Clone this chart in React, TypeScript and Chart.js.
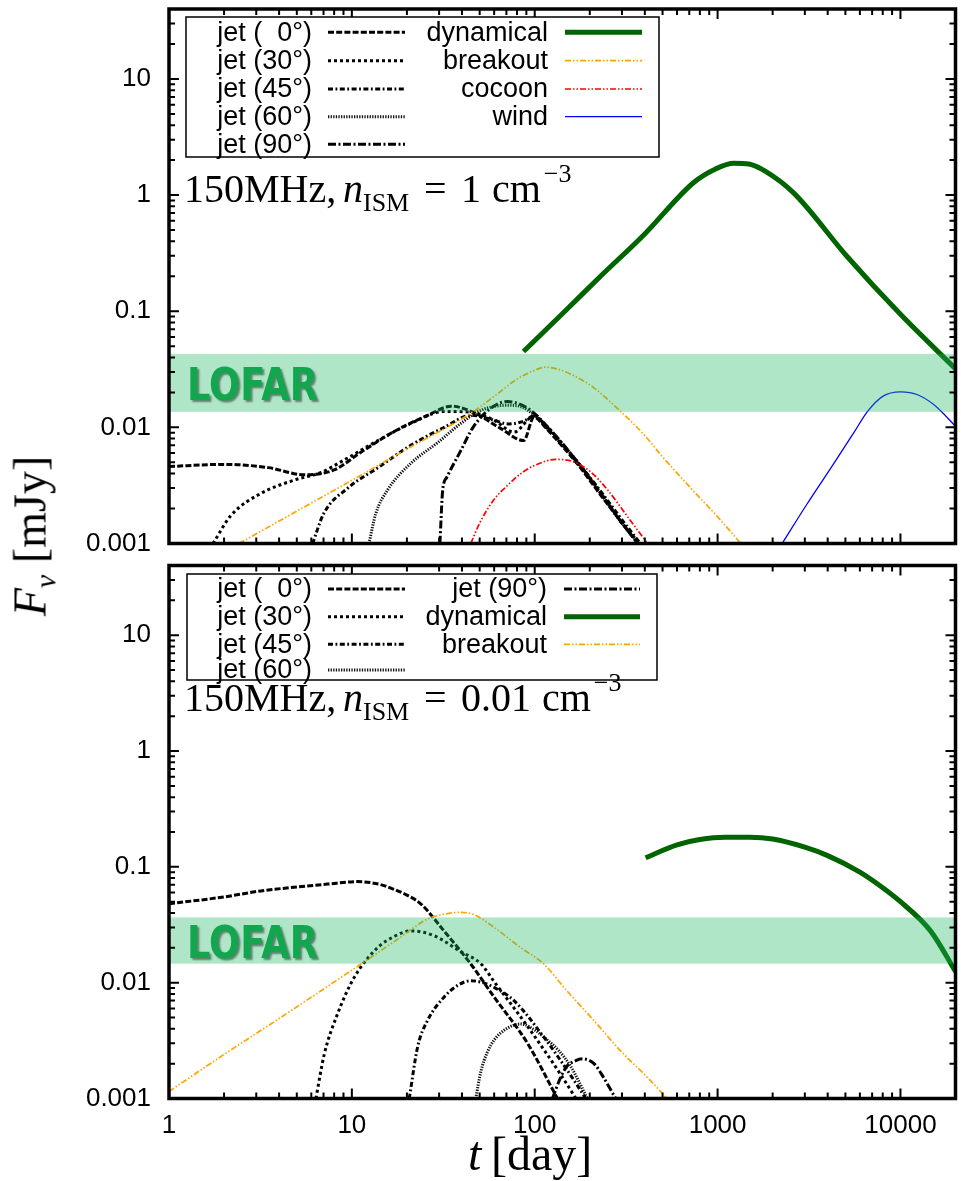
import React, { useEffect, useRef } from 'react';
import { Chart, registerables } from 'chart.js';

Chart.register(...registerables);

// ---------- axes ----------
const X_MIN = 1;
const X_MAX = 20000;
const Y_MIN = 0.001;
const Y_MAX = 40;
const xTickValues = [1, 10, 100, 1000, 10000];
const xTickLabels = ['1', '10', '100', '1000', '10000'];
const yTickValues = [0.001, 0.01, 0.1, 1, 10];
const yTickLabels = ['0.001', '0.01', '0.1', '1', '10'];

// ---------- series names ----------
const NAMES: Record<string, string> = {
  jet0: 'jet (  0°)',
  jet30: 'jet (30°)',
  jet45: 'jet (45°)',
  jet60: 'jet (60°)',
  jet90: 'jet (90°)',
  dyn: 'dynamical',
  breakout: 'breakout',
  cocoon: 'cocoon',
  wind: 'wind',
};

// ---------- top panel: n_ISM = 1 cm^-3 ----------
const topDensityText = '1';
const topLofarBand = [0.0136, 0.0429];

const topJet0Day = [1, 2, 3.5, 5.5, 8, 11.2, 17, 26, 35, 46, 65, 87, 99, 115, 130, 172, 230, 300, 365];
const topJet0Flux = [0.0046, 0.0048, 0.0045, 0.0039, 0.0043, 0.0061, 0.0092, 0.0127, 0.0152, 0.0135, 0.0098, 0.0077, 0.0122, 0.0099, 0.008, 0.0048, 0.0026, 0.0015, 0.001];

const topJet30Day = [1.74, 2.18, 3.18, 4.8, 6.8, 9, 13.9, 21, 32, 45, 60, 77, 99, 115, 130, 172, 230, 300, 372];
const topJet30Flux = [0.001, 0.00174, 0.0027, 0.0035, 0.0041, 0.0052, 0.0077, 0.0108, 0.0137, 0.0135, 0.0115, 0.0091, 0.0125, 0.0101, 0.0082, 0.0049, 0.0027, 0.0015, 0.001];

const topJet45Day = [6.1, 7, 9.5, 13.9, 21, 32, 45, 58, 72, 87, 100, 115, 130, 172, 230, 300, 378];
const topJet45Flux = [0.001, 0.0018, 0.003, 0.0045, 0.007, 0.01, 0.0127, 0.0117, 0.0107, 0.0113, 0.0126, 0.0103, 0.0084, 0.005, 0.0028, 0.0016, 0.001];

const topJet60Day = [12.4, 13.5, 15.7, 21, 29.5, 39.4, 50.7, 71, 85, 98, 115, 130, 172, 230, 300, 375];
const topJet60Flux = [0.001, 0.0018, 0.0029, 0.0049, 0.0074, 0.0108, 0.014, 0.0155, 0.015, 0.013, 0.0104, 0.0084, 0.005, 0.0027, 0.0015, 0.001];

const topJet90Day = [30.3, 31.4, 33, 39.4, 46, 57.5, 71, 91.6, 105, 115, 130, 172, 230, 300, 370];
const topJet90Flux = [0.001, 0.0029, 0.0037, 0.0063, 0.01, 0.0146, 0.0167, 0.0146, 0.0122, 0.0105, 0.0085, 0.005, 0.0027, 0.0015, 0.001];

const topDynDay = [86.8, 150, 229, 396, 743, 975, 1228, 1483, 1829, 2612, 5108, 10000, 20400];
const topDynFlux = [0.045, 0.104, 0.2, 0.456, 1.29, 1.68, 1.88, 1.85, 1.6, 1.04, 0.296, 0.094, 0.031];

const topBreakoutDay = [2.41, 5, 10, 20, 46, 60, 80, 100, 115, 140, 170, 210, 284, 400, 489, 700, 1000, 1340];
const topBreakoutFlux = [0.001, 0.0019, 0.0035, 0.0065, 0.0136, 0.0185, 0.026, 0.031, 0.033, 0.031, 0.027, 0.022, 0.0145, 0.0085, 0.0058, 0.0031, 0.0017, 0.001];

const topCocoonDay = [44.7, 50, 60, 70, 84, 100, 130, 160, 200, 250, 322, 414];
const topCocoonFlux = [0.001, 0.0015, 0.0024, 0.0031, 0.004, 0.0047, 0.0053, 0.0051, 0.0042, 0.0029, 0.0017, 0.001];

const topWindDay = [2255, 3090, 4325, 5560, 6580, 8000, 10000, 12500, 15200, 20400];
const topWindFlux = [0.001, 0.0022, 0.0049, 0.009, 0.0136, 0.0185, 0.0202, 0.019, 0.0157, 0.0099];

// ---------- bottom panel: n_ISM = 0.01 cm^-3 ----------
const botDensityText = '0.01';
const botLofarBand = [0.0146, 0.0366];

const botJet0Day = [1, 2, 3.18, 5, 7.36, 10.7, 14, 17, 20, 23.8, 31.9, 44.7, 60, 91.3, 133];
const botJet0Flux = [0.048, 0.055, 0.062, 0.067, 0.071, 0.0746, 0.071, 0.064, 0.057, 0.048, 0.028, 0.0145, 0.0075, 0.003, 0.001];

const botJet30Day = [6.36, 7.06, 8.36, 10.3, 13.8, 17, 21, 28.2, 39.4, 50.7, 60, 91.3, 139, 168];
const botJet30Flux = [0.001, 0.0024, 0.0054, 0.0111, 0.02, 0.025, 0.028, 0.0254, 0.0185, 0.0146, 0.0102, 0.0042, 0.0016, 0.001];

const botJet45Day = [20.6, 22.9, 25.9, 31.9, 38, 44.7, 52, 60, 77, 112, 171, 190];
const botJet45Flux = [0.001, 0.0028, 0.0047, 0.0075, 0.0095, 0.0104, 0.01, 0.0091, 0.007, 0.0034, 0.0013, 0.001];

const botJet60Day = [47.6, 50.7, 55, 60, 70, 84, 100, 112, 135, 157, 194];
const botJet60Flux = [0.001, 0.0017, 0.0025, 0.0032, 0.004, 0.0044, 0.0039, 0.0034, 0.0026, 0.0019, 0.001];

const botJet90Day = [125, 138, 150, 165, 182, 211, 239, 277];
const botJet90Flux = [0.001, 0.0015, 0.0019, 0.0021, 0.0022, 0.002, 0.0015, 0.001];

const botDynDay = [404, 600, 800, 1100, 1500, 2000, 3000, 4000, 6000, 8000, 10000, 14600, 20000];
const botDynFlux = [0.12, 0.155, 0.172, 0.18, 0.18, 0.174, 0.148, 0.125, 0.09, 0.066, 0.05, 0.028, 0.0125];

const botBreakoutDay = [1, 2, 4, 9.9, 18, 26, 32, 38.6, 46, 60, 84, 112, 150, 211, 300, 400, 531];
const botBreakoutFlux = [0.00115, 0.0024, 0.0049, 0.0127, 0.024, 0.0355, 0.039, 0.0404, 0.039, 0.03, 0.02, 0.0145, 0.0085, 0.0047, 0.0025, 0.0016, 0.001];

// ---------- styles ----------
const STY: Record<string, { color: string; width: number; dash: number[] }> = {
  jet0: { color: '#000000', width: 3, dash: [6, 2.2] },
  jet30: { color: '#000000', width: 3, dash: [3, 3] },
  jet45: { color: '#000000', width: 3, dash: [5, 2.5, 1.8, 2.5] },
  jet60: { color: '#111111', width: 3, dash: [1.3, 1.3] },
  jet90: { color: '#000000', width: 3, dash: [8, 2.5, 2, 2.5] },
  dyn: { color: '#006400', width: 5, dash: [] },
  breakout: { color: '#ffa500', width: 1.7, dash: [6, 2, 1.5, 2, 1.5, 2] },
  cocoon: { color: '#ff0000', width: 1.7, dash: [6, 2, 1.5, 2, 1.5, 2] },
  wind: { color: '#0000ff', width: 1.3, dash: [] },
};

const SANS = '"Liberation Sans", Arial, sans-serif';
const SERIF = '"Liberation Serif", "Times New Roman", serif';

function ds(key: string, days: number[], flux: number[]) {
  const s = STY[key];
  return {
    label: NAMES[key],
    data: days.map((d, i) => ({ x: d, y: flux[i] })),
    borderColor: s.color,
    backgroundColor: s.color,
    borderWidth: s.width,
    borderDash: s.dash,
    borderCapStyle: 'butt',
    borderJoinStyle: 'round',
    pointRadius: 0,
    fill: false,
    cubicInterpolationMode: 'monotone',
  };
}

const labelFor = (values: number[], labels: string[]) => (v: number | string) => {
  const n = Number(v);
  for (let i = 0; i < values.length; i++) {
    if (Math.abs(n / values[i] - 1) < 1e-6) return labels[i];
  }
  return '';
};

type Decor = {
  id: string;
  offsetY: number;
  band: number[];
  box: { x: number; y: number; w: number; h: number };
  leftKeys: string[];
  rightKeys: string[];
  rows: number[];
  leftTextRight: number;
  leftX0: number;
  leftX1: number;
  rightTextRight: number;
  rightX0: number;
  rightX1: number;
  density: string;
  annotBaseline: number;
  xTitle: boolean;
};

function sample(ctx: CanvasRenderingContext2D, key: string, x0: number, x1: number, y: number) {
  const s = STY[key];
  ctx.save();
  ctx.beginPath();
  ctx.strokeStyle = s.color;
  ctx.lineWidth = s.width;
  ctx.setLineDash(s.dash);
  ctx.lineCap = 'butt';
  ctx.moveTo(x0, y);
  ctx.lineTo(x1, y);
  ctx.stroke();
  ctx.restore();
}

function decorPlugin(d: Decor) {
  return {
    id: 'decor_' + d.id,
    afterDatasetsDraw(chart: any) {
      const ctx: CanvasRenderingContext2D = chart.ctx;
      const { left, right } = chart.chartArea;
      const ys = chart.scales.y;
      const yHi = ys.getPixelForValue(d.band[1]);
      const yLo = ys.getPixelForValue(d.band[0]);
      ctx.save();
      ctx.fillStyle = 'rgba(29,183,98,0.35)';
      ctx.fillRect(left, yHi, right - left, yLo - yHi);
      ctx.font = 'bold 45px "DejaVu Sans", sans-serif';
      const w = ctx.measureText('LOFAR').width;
      const cy = (yHi + yLo) / 2;
      ctx.translate(187, cy + 17);
      ctx.scale(131 / w, 1);
      ctx.shadowColor = 'rgba(0,0,0,0.45)';
      ctx.shadowOffsetX = 2;
      ctx.shadowOffsetY = 2;
      ctx.shadowBlur = 2;
      ctx.fillStyle = '#12a64e';
      ctx.textAlign = 'left';
      ctx.textBaseline = 'alphabetic';
      ctx.fillText('LOFAR', 0, 0);
      ctx.restore();
    },
    afterDraw(chart: any) {
      const ctx: CanvasRenderingContext2D = chart.ctx;
      const { left, right, top, bottom } = chart.chartArea;
      const xs = chart.scales.x;
      const ys = chart.scales.y;
      const oy = d.offsetY;
      ctx.save();
      ctx.setLineDash([]);
      ctx.strokeStyle = '#000';
      // ticks
      ctx.lineWidth = 2;
      ctx.beginPath();
      for (const major of xTickValues) {
        for (let m = 1; m <= 9; m++) {
          const v = major * m;
          if (v > X_MAX) break;
          const px = xs.getPixelForValue(v);
          const L = m === 1 ? 10 : 6;
          ctx.moveTo(px, bottom);
          ctx.lineTo(px, bottom - L);
          ctx.moveTo(px, top);
          ctx.lineTo(px, top + L);
        }
      }
      for (const major of yTickValues) {
        for (let m = 1; m <= 9; m++) {
          const v = major * m;
          if (v > Y_MAX) break;
          const py = ys.getPixelForValue(v);
          const L = m === 1 ? 10 : 6;
          ctx.moveTo(left, py);
          ctx.lineTo(left + L, py);
          ctx.moveTo(right, py);
          ctx.lineTo(right - L, py);
        }
      }
      ctx.stroke();
      // frame
      ctx.lineWidth = 3.5;
      ctx.strokeRect(left, top, right - left, bottom - top);

      // legend
      const bx = d.box.x, by = d.box.y - oy;
      ctx.fillStyle = '#fff';
      ctx.fillRect(bx, by, d.box.w, d.box.h);
      ctx.lineWidth = 1.5;
      ctx.strokeStyle = '#000';
      ctx.strokeRect(bx, by, d.box.w, d.box.h);
      ctx.font = '27px ' + SANS;
      ctx.fillStyle = '#000';
      ctx.textAlign = 'right';
      ctx.textBaseline = 'middle';
      d.leftKeys.forEach((k, i) => {
        const y = d.rows[i] - oy;
        ctx.fillText(NAMES[k], d.leftTextRight, y + 1);
        sample(ctx, k, d.leftX0, d.leftX1, y);
      });
      d.rightKeys.forEach((k, i) => {
        const y = d.rows[i] - oy;
        ctx.fillText(NAMES[k], d.rightTextRight, y + 1);
        sample(ctx, k, d.rightX0, d.rightX1, y);
      });

      // annotation: 150MHz, n_ISM = ... cm^-3
      const base = d.annotBaseline - oy;
      ctx.textAlign = 'left';
      ctx.textBaseline = 'alphabetic';
      ctx.fillStyle = '#000';
      ctx.font = '40px ' + SERIF;
      ctx.fillText('150MHz,', 184, base);
      ctx.font = 'italic 40px ' + SERIF;
      ctx.fillText('n', 343, base);
      ctx.font = '26px ' + SERIF;
      ctx.fillText('ISM', 363, base + 9);
      ctx.font = '40px ' + SERIF;
      ctx.fillText('=', 424, base);
      let x = 461;
      ctx.fillText(d.density, x, base);
      x += ctx.measureText(d.density).width + 11;
      ctx.fillText('cm', x, base);
      x += ctx.measureText('cm').width + 3;
      ctx.font = '26px ' + SERIF;
      ctx.fillText('\u22123', x, base - 20);

      if (d.xTitle) {
        const tb = 1170 - oy;
        ctx.font = 'italic 48px ' + SERIF;
        ctx.fillText('t', 468, tb);
        ctx.font = '48px ' + SERIF;
        ctx.fillText('[day]', 491, tb);
      }
      ctx.restore();
    },
  };
}

function makeChart(canvas: HTMLCanvasElement, datasets: any[], decor: Decor, o: { padTop: number; padBottom: number; showX: boolean; xAxisH: number }) {
  return new Chart(canvas, {
    type: 'line',
    data: { datasets },
    options: {
      animation: false,
      responsive: false,
      maintainAspectRatio: false,
      events: [],
      layout: { padding: { left: 0, right: 961 - 955.5, top: o.padTop, bottom: o.padBottom } },
      plugins: { legend: { display: false }, tooltip: { enabled: false }, title: { display: false } },
      scales: {
        x: {
          type: 'logarithmic',
          min: X_MIN,
          max: X_MAX,
          display: o.showX,
          grid: { display: false, drawTicks: false },
          border: { display: false },
          ticks: {
            autoSkip: false,
            maxRotation: 0,
            minRotation: 0,
            padding: 12,
            color: '#000',
            font: { size: 26, family: SANS },
            callback: labelFor(xTickValues, xTickLabels),
          },
          afterFit: (s: any) => {
            s.height = o.xAxisH;
            s.paddingLeft = 0;
            s.paddingRight = 0;
            s.paddingTop = 0;
            s.paddingBottom = 0;
          },
        },
        y: {
          type: 'logarithmic',
          min: Y_MIN,
          max: Y_MAX,
          grid: { display: false, drawTicks: false },
          border: { display: false },
          ticks: {
            autoSkip: false,
            padding: 18,
            color: '#000',
            font: { size: 26, family: SANS },
            callback: labelFor(yTickValues, yTickLabels),
          },
          afterFit: (s: any) => {
            s.width = 169;
            s.paddingLeft = 0;
            s.paddingRight = 0;
            s.paddingTop = 0;
            s.paddingBottom = 0;
          },
        },
      },
    } as any,
    plugins: [decorPlugin(decor) as any],
  });
}

export default function App() {
  const topRef = useRef<HTMLCanvasElement>(null);
  const botRef = useRef<HTMLCanvasElement>(null);

  useEffect(() => {
    const topSets = [
      ds('dyn', topDynDay, topDynFlux),
      ds('cocoon', topCocoonDay, topCocoonFlux),
      ds('breakout', topBreakoutDay, topBreakoutFlux),
      ds('wind', topWindDay, topWindFlux),
      ds('jet0', topJet0Day, topJet0Flux),
      ds('jet30', topJet30Day, topJet30Flux),
      ds('jet45', topJet45Day, topJet45Flux),
      ds('jet60', topJet60Day, topJet60Flux),
      ds('jet90', topJet90Day, topJet90Flux),
    ];
    const botSets = [
      ds('dyn', botDynDay, botDynFlux),
      ds('breakout', botBreakoutDay, botBreakoutFlux),
      ds('jet0', botJet0Day, botJet0Flux),
      ds('jet30', botJet30Day, botJet30Flux),
      ds('jet45', botJet45Day, botJet45Flux),
      ds('jet60', botJet60Day, botJet60Flux),
      ds('jet90', botJet90Day, botJet90Flux),
    ];
    const topDecor: Decor = {
      id: 'top',
      offsetY: 0,
      band: topLofarBand,
      box: { x: 186, y: 17, w: 473, h: 140 },
      leftKeys: ['jet0', 'jet30', 'jet45', 'jet60', 'jet90'],
      rightKeys: ['dyn', 'breakout', 'cocoon', 'wind'],
      rows: [32.3, 60.7, 89, 116.7, 144.3],
      leftTextRight: 312,
      leftX0: 328,
      leftX1: 405,
      rightTextRight: 548,
      rightX0: 565,
      rightX1: 642,
      density: topDensityText,
      annotBaseline: 202,
      xTitle: false,
    };
    const botDecor: Decor = {
      id: 'bot',
      offsetY: 554,
      band: botLofarBand,
      box: { x: 187, y: 574, w: 470, h: 106 },
      leftKeys: ['jet0', 'jet30', 'jet45', 'jet60'],
      rightKeys: ['jet90', 'dyn', 'breakout'],
      rows: [589, 616.7, 644.3, 670],
      leftTextRight: 312,
      leftX0: 328,
      leftX1: 405,
      rightTextRight: 547,
      rightX0: 564,
      rightX1: 640,
      density: botDensityText,
      annotBaseline: 711,
      xTitle: true,
    };
    const c1 = makeChart(topRef.current!, topSets, topDecor, { padTop: 9, padBottom: 554 - 543.5, showX: false, xAxisH: 0 });
    const c2 = makeChart(botRef.current!, botSets, botDecor, { padTop: 11.5, padBottom: 0, showX: true, xAxisH: 627 - 544.5 });
    return () => {
      c1.destroy();
      c2.destroy();
    };
  }, []);

  return (
    <div style={{ position: 'absolute', left: 0, top: 0, width: 961, height: 1181, background: '#fff', overflow: 'hidden' }}>
      <canvas ref={topRef} width={961} height={554} style={{ position: 'absolute', left: 0, top: 0, width: 961, height: 554 }} />
      <canvas ref={botRef} width={961} height={627} style={{ position: 'absolute', left: 0, top: 554, width: 961, height: 627 }} />
      <div
        style={{
          position: 'absolute',
          left: 33,
          top: 536,
          transform: 'translate(-50%, -50%) rotate(-90deg)',
          fontFamily: SERIF,
          fontSize: 46,
          lineHeight: '46px',
          whiteSpace: 'nowrap',
          color: '#000',
        }}
      >
        <i>F</i>
        <i style={{ fontSize: 30, position: 'relative', top: 10 }}>ν</i>
        <span> [mJy]</span>
      </div>
    </div>
  );
}
